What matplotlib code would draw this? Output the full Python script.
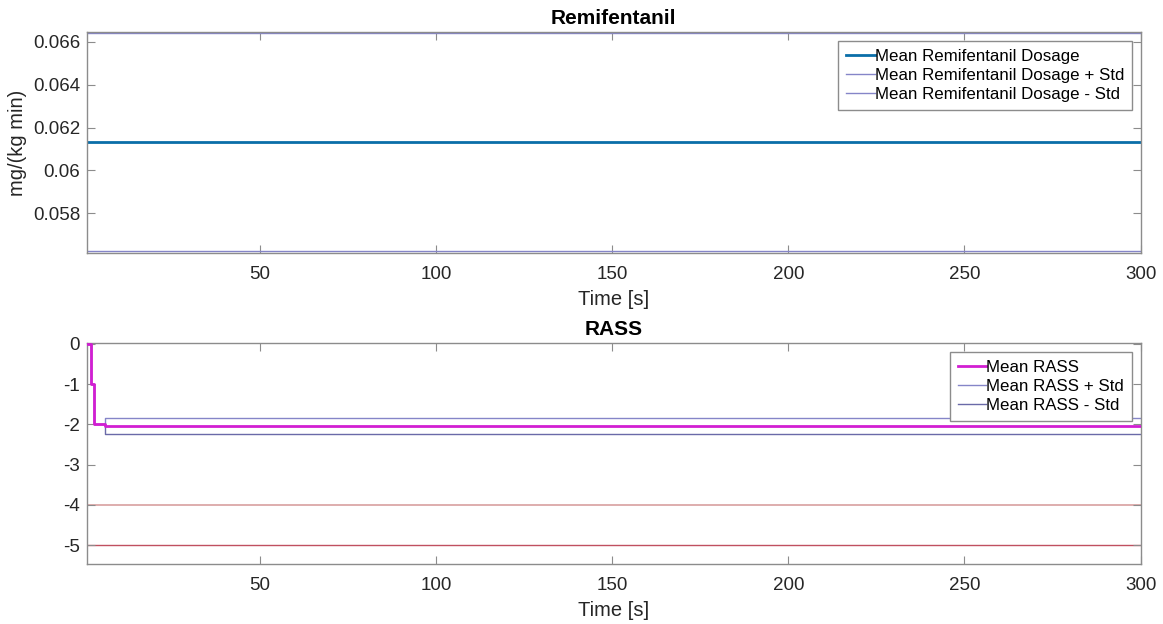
#!/usr/bin/env python3
# -*- coding: utf-8 -*-
"""
    Remifentanil dosage and RASS over time (mean +/- std).
"""

import matplotlib
matplotlib.use("Agg")
import matplotlib.pyplot as plt
from matplotlib.ticker import FuncFormatter

# Datos
t_remi = [1, 300]
remi_mean = [0.06132, 0.06132]
remi_std = 0.0051

t_rass = [1, 2, 3, 6, 300]
rass_mean = [0, -1, -2, -2.05, -2.05]
rass_plus = [0, -1, -2, -1.85, -1.85]
rass_minus = [0, -1, -2, -2.25, -2.25]
rass_limits = [-4, -5]

x_ticks = [50, 100, 150, 200, 250, 300]

plt.rcParams["font.family"] = ["Liberation Sans", "DejaVu Sans"]
plt.rcParams["axes.unicode_minus"] = False

EJE = "#8c8c8c"
TEXTO = "#262626"
STD_COL = "#8585c8"


def estilo(ax):
    for s in ax.spines.values():
        s.set_color(EJE)
        s.set_linewidth(1.0)
    ax.tick_params(direction="in", top=True, right=True, colors=EJE,
                   labelcolor=TEXTO, labelsize=13.5, length=6)
    ax.tick_params(axis="x", pad=9.5)
    ax.tick_params(axis="y", pad=5)
    ax.set_xticks(x_ticks)
    ax.set_xlim(1, 300)


def leyenda(ax, handles, labels):
    leg = ax.legend(handles, labels, loc="upper right", fontsize=12.2,
                    fancybox=False, framealpha=1, handlelength=1.7,
                    handletextpad=0.0, borderpad=0.45, borderaxespad=0,
                    labelspacing=0.26, bbox_to_anchor=(0.9915, 0.96))
    leg.get_frame().set_edgecolor(EJE)
    leg.get_frame().set_linewidth(1.0)
    return leg


fig = plt.figure(figsize=(11.63, 6.24), dpi=100)

# Remifentanil
ax1 = fig.add_axes([0.0748, 0.5946, 0.906, 0.354])
ax1.plot(t_remi, remi_mean, color="#0a6ea8", lw=2, label="Mean Remifentanil Dosage")
ax1.plot(t_remi, [m + remi_std for m in remi_mean], color=STD_COL, lw=1,
         label="Mean Remifentanil Dosage + Std")
ax1.plot(t_remi, [m - remi_std for m in remi_mean], color=STD_COL, lw=1,
         label="Mean Remifentanil Dosage - Std")
estilo(ax1)
ax1.set_ylim(0.05614, 0.06646)
ax1.set_yticks([0.058, 0.06, 0.062, 0.064, 0.066])
ax1.yaxis.set_major_formatter(FuncFormatter(lambda v, p: ("%.3f" % v).rstrip("0")))
ax1.set_title("Remifentanil", fontsize=15, fontweight="bold", color="black", pad=6)
ax1.set_xlabel("Time [s]", fontsize=14.5, color=TEXTO, labelpad=5)
ax1.set_ylabel("mg/(kg min)", fontsize=14.5, color=TEXTO, labelpad=4)
h, l = ax1.get_legend_handles_labels()
leyenda(ax1, h, l)

# RASS
ax2 = fig.add_axes([0.0748, 0.0962, 0.906, 0.354])
ax2.plot(t_rass, rass_plus, color=STD_COL, lw=1, drawstyle="steps-post",
         label="Mean RASS + Std", zorder=2)
ax2.plot(t_rass, rass_minus, color="#6a6aa8", lw=1, drawstyle="steps-post",
         label="Mean RASS - Std", zorder=2)
ax2.plot(t_rass, rass_mean, color="#d21ed2", lw=2, drawstyle="steps-post",
         label="Mean RASS", zorder=3)
ax2.axhline(rass_limits[0], color="#d8a0a0", lw=1.2, zorder=1)
ax2.axhline(rass_limits[1], color="#c05060", lw=1, zorder=1)
estilo(ax2)
ax2.set_ylim(-5.47, 0.02)
ax2.set_yticks([-5, -4, -3, -2, -1, 0])
ax2.set_title("RASS", fontsize=15, fontweight="bold", color="black", pad=6)
ax2.set_xlabel("Time [s]", fontsize=14.5, color=TEXTO, labelpad=5)
h, l = ax2.get_legend_handles_labels()
orden = [2, 0, 1]
leyenda(ax2, [h[i] for i in orden], [l[i] for i in orden])

fig.savefig("out.png", dpi=100)
